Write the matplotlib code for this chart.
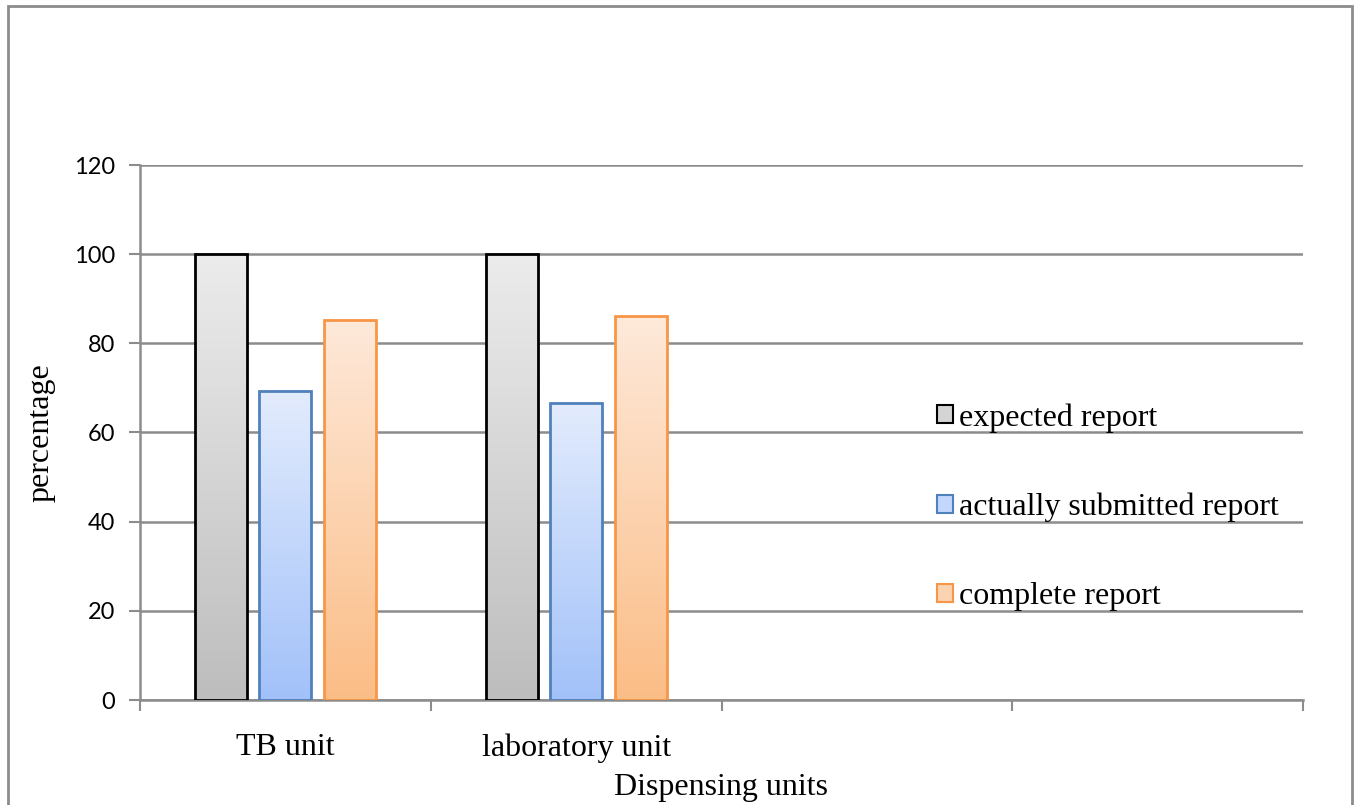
import numpy as np
import matplotlib.pyplot as plt
from matplotlib.patches import Rectangle
from matplotlib.colors import LinearSegmentedColormap

# Report percentages per dispensing unit
categories = ['TB unit', 'laboratory unit', '', '']
series_names = ['expected report', 'actually submitted report', 'complete report']
expected = [100, 100]
submitted = [69.4, 66.7]
complete = [85.3, 86.1]

# (top colour, bottom colour, edge colour) for each series
styles = [('#ececec', '#bdbdbd', '#000000'),
          ('#e3ecfd', '#a2c1f9', '#4f81bd'),
          ('#fee9da', '#fbbd86', '#f79646')]
legend_fill = ['#d4d4d4', '#c3d6fb', '#fcd3b0']

serif = 'Liberation Serif'

fig = plt.figure(figsize=(13.56, 8.05), dpi=100)
ax = fig.add_axes([140/1356, 1-700/805, (1303-140)/1356, (700-165)/805])

# outer chart frame
fig.patches.append(Rectangle((8/1356, -0.05), (1352-8)/1356, 1.05 - 6/805,
                             transform=fig.transFigure, fill=False,
                             edgecolor='#8c8c8c', linewidth=2))

width = 0.179
offsets = [-0.222, 0.0, 0.222]
grad = np.linspace(0, 1, 256).reshape(-1, 1)

for values, off, (top, bottom, edge) in zip([expected, submitted, complete], offsets, styles):
    cmap = LinearSegmentedColormap.from_list('g', [bottom, top])
    for i, v in enumerate(values):
        x0 = i + 0.5 + off - width / 2
        ax.imshow(grad, cmap=cmap, origin='lower', aspect='auto',
                  extent=(x0, x0 + width, 0, v), zorder=2, interpolation='bilinear')
        ax.add_patch(Rectangle((x0, 0), width, v, fill=False,
                               edgecolor=edge, linewidth=2, zorder=3))

ax.set_xlim(0, len(categories))
ax.set_ylim(0, 120)

# grid and axes
ax.set_yticks(np.arange(0, 121, 20))
ax.yaxis.grid(True, color='#8c8c8c', linewidth=1.8)
ax.set_axisbelow(True)
for s in ['top', 'right']:
    ax.spines[s].set_visible(False)
for s in ['left', 'bottom']:
    ax.spines[s].set_color('#8c8c8c')
    ax.spines[s].set_linewidth(1.8)

ax.set_xticks(np.arange(0, len(categories) + 1))
ax.set_xticklabels([])
ax.set_xticks(np.arange(len(categories)) + 0.5, minor=True)
ax.set_xticklabels(categories, minor=True, family=serif, fontsize=23)
ax.tick_params(axis='x', which='major', length=8, width=1.5, color='#8c8c8c', direction='out')
ax.tick_params(axis='x', which='minor', length=0, pad=24)
ax.tick_params(axis='y', length=8, width=1.5, color='#8c8c8c', pad=10)
for lbl in ax.get_yticklabels():
    lbl.set_family('Lato')
    lbl.set_fontsize(17)

ax.set_xlabel('Dispensing units', family=serif, fontsize=23, labelpad=7)
ax.set_ylabel('percentage', family=serif, fontsize=23, labelpad=13)

# legend
handles = [Rectangle((0, 0), 1, 1, facecolor=f, edgecolor=s[2], linewidth=1.5)
           for f, s in zip(legend_fill, styles)]
fig.legend(handles, series_names, loc='upper left',
           bbox_to_anchor=(937/1356, 1-403/805), frameon=False,
           prop={'family': serif, 'size': 23},
           handlelength=0.5, handleheight=0.5, handletextpad=0.2,
           labelspacing=1.88, borderaxespad=0, borderpad=0)

fig.savefig('out.png', dpi=100)
